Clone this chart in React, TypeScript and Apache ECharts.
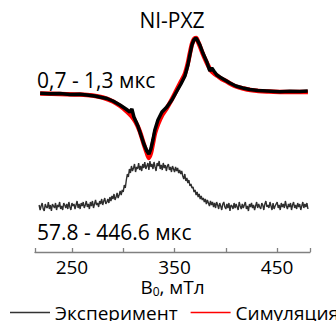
import React, { useEffect, useRef } from "react";
import * as echarts from "echarts";

// Axis
const fieldMin = 214;
const fieldMax = 482;
const fieldTicks = [214, 250, 300, 350, 400, 450, 482];
const fieldLabels = [250, 350, 450];

// Early-time spectrum (0,7 - 1,3 мкс): experiment
const expField = [219, 228.6, 238.3, 248.1, 257.8, 264.6, 272.4, 279.2, 284.1, 289.9, 296.8, 302.6, 306.5, 308.4, 310.4, 314.3, 317.2, 320.1, 323.0, 325.0, 326.9, 328.9, 330.8, 333.8, 337.7, 342.5, 347.4, 352.3, 356.2, 360.1, 363.0, 364.9, 366.9, 368.8, 370.8, 372.7, 374.7, 377.6, 381.5, 384.4, 386.3, 388.3, 391.2, 394.1, 399.0, 403.9, 409.7, 416.5, 423.3, 431.1, 439.9, 452.6, 462.3, 472.0, 479.8];
const expSignal = [-0.3, -0.8, -0.6, -1.4, -1.2, -2, -3, -4.5, -5.5, -8, -12, -16, -19, -16, -24, -33, -42, -51, -58, -61, -56, -47, -37, -27, -19, -14, -7, 2, 9, 17, 28, 38, 48, 53, 55, 52, 48, 40, 31, 22, 25, 22, 18, 16, 13, 10, 7, 5, 3.5, 2.5, 2, 1.2, 1.8, 1.5, 2];

// Early-time spectrum: simulation
const simField = [219, 238.3, 257.8, 270, 280, 290, 297, 303, 308, 312, 316, 320, 323, 325, 327, 329, 331, 334, 338, 342.5, 347, 352, 356, 360, 363, 365, 367, 369, 371, 373, 375, 378, 381.5, 385, 388, 392, 396, 400, 405, 410, 417, 424, 432, 440, 455, 470, 480];
const simSignal = [-0.5, -1, -1.5, -2.5, -4.5, -8.5, -13, -18, -23, -29, -38, -51, -60, -65, -60, -50, -40, -31, -22, -15, -7, 3, 11, 19, 30, 40, 49, 54, 55, 51, 46, 38, 30, 23, 20, 17, 14, 12, 9, 6.5, 4.5, 3, 2, 1.5, 1, 1, 1];

// Late-time spectrum (57.8 - 446.6 мкс): experiment, field 218..480 mT, step 1 mT
const lateFieldStart = 218;
const lateFieldStep = 1;
const lateSignal = [
  2, -3, 1, 4, -2, -4, 3, 0, -1, 5,
  -2, 2, -4, 3, 1, -1, 4, -3, 2, 0,
  5, -2, 1, -3, 4, 2, -1, 3, -2, 5,
  0, -3, 4, 1, 3, -2, 2, 6, -1, 3,
  -2, 4, 1, 5, -1, 2, 6, 0, 3, -2,
  5, 1, 6, -1, 3, 7, 2, 4, 0, 6,
  3, 8, 2, 6, 9, 3, 5, 8, 4, 10,
  6, 11, 8, 13, 7, 10, 14, 9, 12, 16,
  12, 17, 15, 22, 19, 27, 33, 30, 38, 34,
  41, 36, 39, 43, 35, 40, 38, 44, 37, 41,
  36, 43, 39, 45, 38, 41, 44, 37, 46, 40,
  43, 38, 45, 40, 36, 44, 41, 46, 38, 42,
  37, 44, 39, 42, 36, 41, 43, 37, 40, 35,
  41, 38, 35, 40, 36, 39, 34, 37, 33, 36,
  31, 28, 33, 26, 29, 24, 27, 21, 23, 19,
  20, 15, 17, 12, 15, 10, 13, 8, 11, 7,
  9, 5, 8, 3, 7, 4, 1, 6, 2, 5,
  0, 4, -1, 5, 2, -2, 4, 1, -3, 3,
  5, 0, -2, 3, -1, 4, -4, 2, 1, -2,
  4, -1, 3, 0, -3, 5, 1, -2, 3, -1,
  2, 5, -2, 1, -4, 3, 0, 4, -1, 2,
  -3, 1, 5, -1, 3, 0, -2, 4, 2, -3,
  3, 6, 0, 2, -1, 5, 1, -3, 4, -2,
  1, 3, 5, -1, 2, -3, 4, 0, 3, -1,
  6, 1, -2, 3, 0, 4, -3, 2, 5, -1,
  2, -2, 4, 0, 3, -3, 1, 5, -1, 3,
  0, 4, -2,
];

const TOP_BASE = 159;
const LOW_BASE = 45;
const FONT = "'Open Sans', sans-serif";

export default function App() {
  const ref = useRef<HTMLDivElement>(null);
  useEffect(() => {
    document.body.style.margin = "0";
    if (!ref.current) return;
    const chart = echarts.init(ref.current, null, { renderer: "svg" });
    const expData = expField.map((x, i) => [x, TOP_BASE + expSignal[i]]);
    const simData = simField.map((x, i) => [x, TOP_BASE + simSignal[i]]);
    const lateData = lateSignal.map((v, i) => [lateFieldStart + i * lateFieldStep, LOW_BASE + v]);
    chart.setOption({
      animation: false,
      textStyle: { fontFamily: FONT },
      grid: { left: 35, right: 26, top: 30, bottom: 69 },
      xAxis: {
        type: "value",
        min: fieldMin,
        max: fieldMax,
        splitLine: { show: false },
        axisLine: { lineStyle: { color: "#808080", width: 1.3 } },
        axisTick: { inside: true, length: 4, customValues: fieldTicks, lineStyle: { color: "#808080", width: 1.3 } },
        axisLabel: { customValues: fieldLabels, fontSize: 19, color: "#000", margin: 5, fontFamily: FONT },
        name: "{a|B}{s|0}{a|, мТл}",
        nameLocation: "middle",
        nameGap: 25,
        nameMoveOverlap: false,
        nameTextStyle: {
          rich: {
            a: { fontSize: 19, lineHeight: 20, color: "#000", fontFamily: FONT },
            s: { fontSize: 12, lineHeight: 20, color: "#000", fontFamily: FONT, verticalAlign: "bottom", padding: [5, 0, 0, 0] },
          },
        },
      },
      yAxis: { type: "value", min: 0, max: 222, show: false },
      legend: {
        left: 10,
        top: 303,
        width: 500,
        icon: "rect",
        itemWidth: 40,
        itemHeight: 1.5,
        itemGap: 13,
        padding: 0,
        textStyle: { fontSize: 19, color: "#000", fontFamily: FONT },
        data: [
          { name: "Эксперимент", itemStyle: { color: "#333333" } },
          { name: "Симуляция", itemStyle: { color: "#ff0000" } },
        ],
      },
      graphic: [
        { type: "text", x: 172, y: 20, style: { text: "NI-PXZ", font: `21px ${FONT}`, fill: "#000", align: "center", verticalAlign: "middle" } },
        { type: "text", x: 37, y: 80, style: { text: "0,7 - 1,3 мкс", font: `21px ${FONT}`, fill: "#000", align: "left", verticalAlign: "middle" } },
        { type: "text", x: 37, y: 232, style: { text: "57.8 - 446.6 мкс", font: `21px ${FONT}`, fill: "#000", align: "left", verticalAlign: "middle" } },
      ],
      series: [
        {
          name: "Симуляция",
          type: "line",
          data: simData,
          showSymbol: false,
          smooth: 0.3,
          lineStyle: { color: "#ff0000", width: 4.5 },
          itemStyle: { color: "#ff0000" },
          z: 2,
        },
        {
          name: "Эксперимент",
          type: "line",
          data: expData,
          showSymbol: false,
          lineStyle: { color: "#000000", width: 3.5 },
          itemStyle: { color: "#000000" },
          z: 3,
        },
        {
          name: "Эксперимент",
          type: "line",
          data: lateData,
          showSymbol: false,
          lineStyle: { color: "#2e2e2e", width: 1.4 },
          itemStyle: { color: "#2e2e2e" },
          z: 3,
        },
      ],
    });
    return () => chart.dispose();
  }, []);
  return <div ref={ref} style={{ width: 336, height: 321 }} />;
}
